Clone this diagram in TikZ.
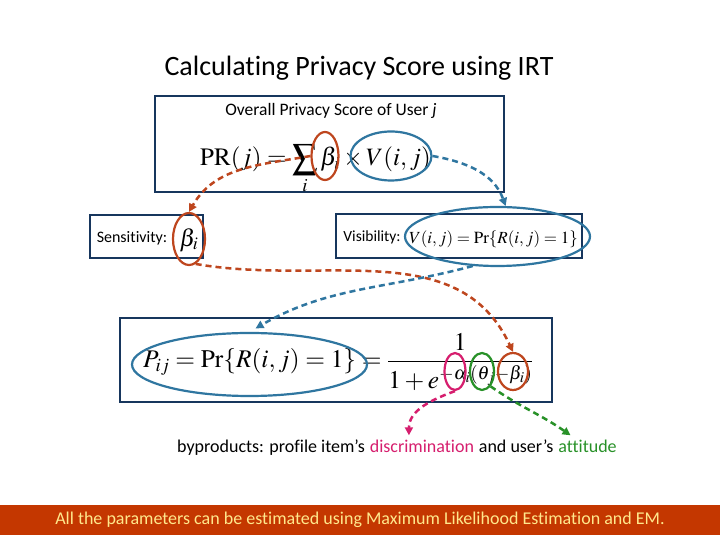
\documentclass[tikz,border=0pt]{standalone}
\usepackage{mathptmx}
\usepackage[no-math]{fontspec}
\setmainfont{Carlito}[Ligatures={TeX,NoCommon}]
\usepackage{xcolor}
\usepackage{amsmath}
\usetikzlibrary{shapes.geometric, arrows.meta, positioning}

\definecolor{boxblue}{RGB}{23,54,93}
\definecolor{ringred}{RGB}{190,70,30}
\definecolor{ringblue}{RGB}{47,118,160}
\definecolor{ringpink}{RGB}{214,30,110}
\definecolor{ringgreen}{RGB}{40,145,40}
\definecolor{bannerred}{RGB}{196,55,0}
\definecolor{bannertext}{RGB}{255,232,140}

\begin{document}
\begin{tikzpicture}[x=1pt, y=1pt,
  box/.style={rectangle, draw=boxblue, line width=2.5pt},
  ring/.style={ellipse, draw, line width=2.2pt, inner sep=0pt},
  link/.style={line width=2.5pt, dash pattern=on 6pt off 4pt, -{Triangle[length=8pt,width=8pt]}},
  eq/.style={inner sep=0pt, anchor=base west},
  lbl/.style={inner sep=0pt, font=\fontsize{18}{22}\selectfont}
]
  \useasboundingbox (0,0) rectangle (720,540);
  \fill[white] (0,0) rectangle (720,540);

  \node[font=\fontsize{28}{34}\selectfont] (title) at (359,472) {Calculating Privacy Score using IRT};

  % overall score
  \node[box, minimum width=349pt, minimum height=96pt] (score) at (329.5,396) {};
  \node[font=\fontsize{17.5}{21}\selectfont] (overall) at (331,429) {Overall Privacy Score of User \textit{j}};
  \node[eq, font=\fontsize{25}{30}\selectfont] (prformula) at (200,374) {$\mathrm{PR}(j)=\displaystyle\sum_i\beta_i\times V(i,j)$};
  \node[ring, draw=ringred, minimum width=27pt, minimum height=48pt] (b1ring) at (325,384) {};
  \node[ring, draw=ringblue, minimum width=81pt, minimum height=49pt] (v1ring) at (391,384) {};

  % sensitivity and visibility
  \node[box, minimum width=113pt, minimum height=43pt] (sens) at (146.5,303.5) {};
  \node[font=\fontsize{16}{19}\selectfont] (senslbl) at (132,302) {Sensitivity:};
  \node[font=\fontsize{24}{28}\selectfont] (sensbeta) at (189,300) {$\beta_i$};
  \node[ring, draw=ringred, minimum width=32pt, minimum height=52pt] (sring) at (189,301) {};

  \node[box, minimum width=246pt, minimum height=44pt] (vis) at (459,304) {};
  \node[font=\fontsize{15.5}{19}\selectfont] (vislbl) at (372,303) {Visibility:};
  \node[eq, font=\fontsize{17}{21}\selectfont] (visformula) at (409,296) {$V(i,j)=\Pr\{R(i,j)=1\}$};
  \node[ring, draw=ringblue, minimum width=185pt, minimum height=59pt] (visring) at (497.5,303.5) {};

  % IRT model
  \node[box, minimum width=432pt, minimum height=84pt] (irt) at (336,180) {};
  \node[eq, font=\fontsize{25.4}{30}\selectfont] (pformula) at (143,172) {$P_{ij}=\Pr\{R(i,j)=1\}=\dfrac{1}{1+e^{-\alpha_i(\theta_j-\beta_i)}}$};
  \node[ring, draw=ringblue, minimum width=235pt, minimum height=63pt] (pring) at (249.5,175.5) {};
  \node[ring, draw=ringpink, minimum width=21pt, minimum height=37pt] (aring) at (455,168.5) {};
  \node[ring, draw=ringgreen, minimum width=24pt, minimum height=37pt] (tring) at (482,168.5) {};
  \node[ring, draw=ringred, minimum width=30pt, minimum height=37pt] (b4ring) at (513,168.5) {};

  % byproducts
  \node[lbl, anchor=base west] (byprod) at (177,87) {byproducts: profile item's};
  \node[lbl, text=ringpink, base right=4.5pt of byprod] (disc) {discrimination};
  \node[lbl, base right=4.5pt of disc] (anduser) {and user's};
  \node[lbl, text=ringgreen, base right=4.5pt of anduser] (att) {attitude};

  \draw[link, ringred] (b1ring.west) to[out=190, in=60] (sring.north);
  \draw[link, ringred] (sring.-75) to[out=-10, in=115] (b4ring.north);
  \draw[link, ringblue] (v1ring.east) to[out=-10, in=110] (visring.75);
  \draw[link, ringblue, shorten >=7pt] (visring.-130) to[out=195, in=30] (pring.north);
  \draw[link, ringpink] (aring.south) to[out=200, in=90] ([xshift=-13pt, yshift=5pt]disc.north);
  \draw[link, ringgreen] (tring.-60) to[out=-35, in=145] ([xshift=-17pt, yshift=5pt]att.north);

  \node[fill=bannerred, minimum width=720pt, minimum height=30pt, inner sep=0pt, text=bannertext,
        font=\fontsize{18}{21}\selectfont] (banner) at (360,20) {All the parameters can be estimated using Maximum Likelihood Estimation and EM.};
\end{tikzpicture}
\end{document}
